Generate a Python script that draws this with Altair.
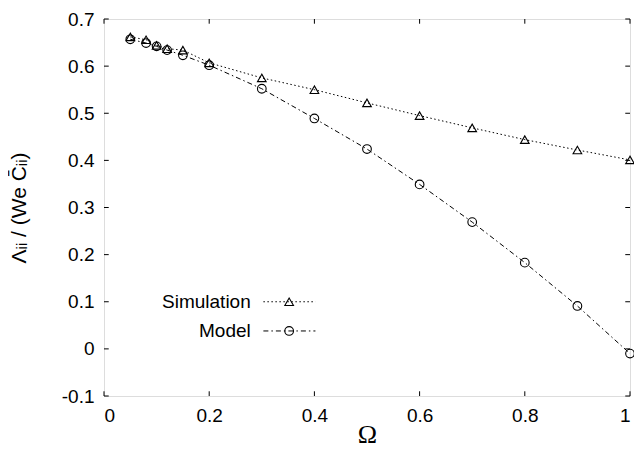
import altair as alt
import pandas as pd

omega = [0.05, 0.08, 0.1, 0.12, 0.15, 0.2, 0.3, 0.4, 0.5, 0.6, 0.7, 0.8, 0.9, 1.0]
simulation = [0.662, 0.656, 0.644, 0.637, 0.634, 0.607, 0.575, 0.550, 0.522, 0.495, 0.469, 0.444, 0.422, 0.401]
model = [0.657, 0.649, 0.642, 0.634, 0.623, 0.602, 0.552, 0.489, 0.424, 0.349, 0.269, 0.183, 0.091, -0.010]

x_ticks = [0, 0.2, 0.4, 0.6, 0.8, 1.0]
y_ticks = [-0.1, 0, 0.1, 0.2, 0.3, 0.4, 0.5, 0.6, 0.7]

series_names = ["Simulation", "Model"]
legend_y = [0.1, 0.038]

X_DOM = [0, 1]
Y_DOM = [-0.1, 0.7]
FONT = "Liberation Sans"

W, H = 526, 377

sim_df = pd.DataFrame({"omega": omega, "value": simulation})
mod_df = pd.DataFrame({"omega": omega, "value": model})

xs = alt.Scale(domain=X_DOM, nice=False, zero=False)
ys = alt.Scale(domain=Y_DOM, nice=False, zero=False)

x_axis = alt.Axis(values=x_ticks, ticks=False, tickSize=0, domain=False, grid=False,
                  labelFont=FONT, labelFontSize=19, labelColor="black", labelPadding=10,
                  labelExpr="toString(datum.value)",
                  title="Ω", titleFont="Liberation Serif", titleFontSize=26,
                  titleFontWeight="normal", titleColor="black",
                  titleX=W / 2, titleY=46, titleBaseline="alphabetic", titleAlign="center")
y_axis = alt.Axis(values=y_ticks, ticks=False, tickSize=0, domain=False, grid=False,
                  labelFont=FONT, labelFontSize=19, labelColor="black", labelPadding=10,
                  labelExpr="toString(datum.value)",
                  title="Λᵢᵢ / (We C̄ᵢᵢ)", titleFont=FONT, titleFontSize=21,
                  titleFontWeight="normal", titleColor="black", titleAngle=-90,
                  titleX=-85, titleY=H / 2, titleBaseline="middle", titleAlign="center")

base_x = alt.X("omega:Q", scale=xs, axis=x_axis)
base_y = alt.Y("value:Q", scale=ys, axis=y_axis)

sim_line = alt.Chart(sim_df).mark_line(color="black", strokeWidth=1, strokeDash=[1.5, 2.5]).encode(
    x=base_x, y=base_y)
sim_pts = alt.Chart(sim_df).mark_point(shape="triangle-up", filled=False, color="black",
                                       strokeWidth=1.1, size=75, opacity=1).encode(
    x=alt.X("omega:Q", scale=xs), y=alt.Y("value:Q", scale=ys))
mod_line = alt.Chart(mod_df).mark_line(color="black", strokeWidth=1, strokeDash=[5, 3, 1.5, 3]).encode(
    x=alt.X("omega:Q", scale=xs), y=alt.Y("value:Q", scale=ys))
mod_pts = alt.Chart(mod_df).mark_point(shape="circle", filled=False, color="black",
                                       strokeWidth=1.1, size=75, opacity=1).encode(
    x=alt.X("omega:Q", scale=xs), y=alt.Y("value:Q", scale=ys))

# inward ticks on all four sides
yt = pd.DataFrame({"v": y_ticks, "a0": [0.0] * len(y_ticks), "a1": [0.009] * len(y_ticks),
                   "b0": [1.0] * len(y_ticks), "b1": [0.991] * len(y_ticks)})
xt = pd.DataFrame({"v": x_ticks, "a0": [-0.1] * len(x_ticks), "a1": [-0.09] * len(x_ticks),
                   "b0": [0.7] * len(x_ticks), "b1": [0.69] * len(x_ticks)})
tick_l = alt.Chart(yt).mark_rule(color="black", strokeWidth=1).encode(
    x=alt.X("a0:Q", scale=xs), x2="a1:Q", y=alt.Y("v:Q", scale=ys))
tick_r = alt.Chart(yt).mark_rule(color="black", strokeWidth=1).encode(
    x=alt.X("b0:Q", scale=xs), x2="b1:Q", y=alt.Y("v:Q", scale=ys))
tick_b = alt.Chart(xt).mark_rule(color="black", strokeWidth=1).encode(
    y=alt.Y("a0:Q", scale=ys), y2="a1:Q", x=alt.X("v:Q", scale=xs))
tick_t = alt.Chart(xt).mark_rule(color="black", strokeWidth=1).encode(
    y=alt.Y("b0:Q", scale=ys), y2="b1:Q", x=alt.X("v:Q", scale=xs))

# legend (gnuplot style: label, then line sample with marker)
leg = pd.DataFrame({"name": series_names, "y": legend_y,
                    "tx": [0.279, 0.279], "l0": [0.303, 0.303], "l1": [0.402, 0.402],
                    "m": [0.352, 0.352]})
leg_text = alt.Chart(leg).mark_text(align="right", baseline="middle", font=FONT,
                                    fontSize=19, color="black").encode(
    x=alt.X("tx:Q", scale=xs), y=alt.Y("y:Q", scale=ys), text="name:N")
leg_sim_line = alt.Chart(leg[leg.name == "Simulation"]).mark_rule(
    color="black", strokeWidth=1, strokeDash=[1.5, 2.5]).encode(
    x=alt.X("l0:Q", scale=xs), x2="l1:Q", y=alt.Y("y:Q", scale=ys))
leg_mod_line = alt.Chart(leg[leg.name == "Model"]).mark_rule(
    color="black", strokeWidth=1, strokeDash=[5, 3, 1.5, 3]).encode(
    x=alt.X("l0:Q", scale=xs), x2="l1:Q", y=alt.Y("y:Q", scale=ys))
leg_sim_pt = alt.Chart(leg[leg.name == "Simulation"]).mark_point(
    shape="triangle-up", filled=False, color="black", strokeWidth=1.1, size=75, opacity=1).encode(
    x=alt.X("m:Q", scale=xs), y=alt.Y("y:Q", scale=ys))
leg_mod_pt = alt.Chart(leg[leg.name == "Model"]).mark_point(
    shape="circle", filled=False, color="black", strokeWidth=1.1, size=75, opacity=1).encode(
    x=alt.X("m:Q", scale=xs), y=alt.Y("y:Q", scale=ys))

chart = alt.layer(
    sim_line, mod_line, sim_pts, mod_pts,
    tick_l, tick_r, tick_b, tick_t,
    leg_text, leg_sim_line, leg_mod_line, leg_sim_pt, leg_mod_pt,
).properties(
    width=W, height=H,
    padding={"left": 96, "top": 11, "right": 4, "bottom": 53},
    autosize=alt.AutoSizeParams(type="none"),
).configure_view(
    stroke="black", strokeWidth=1.2
).configure(background="white")

chart.save("out.html", embed_options={"renderer": "svg", "actions": False})
